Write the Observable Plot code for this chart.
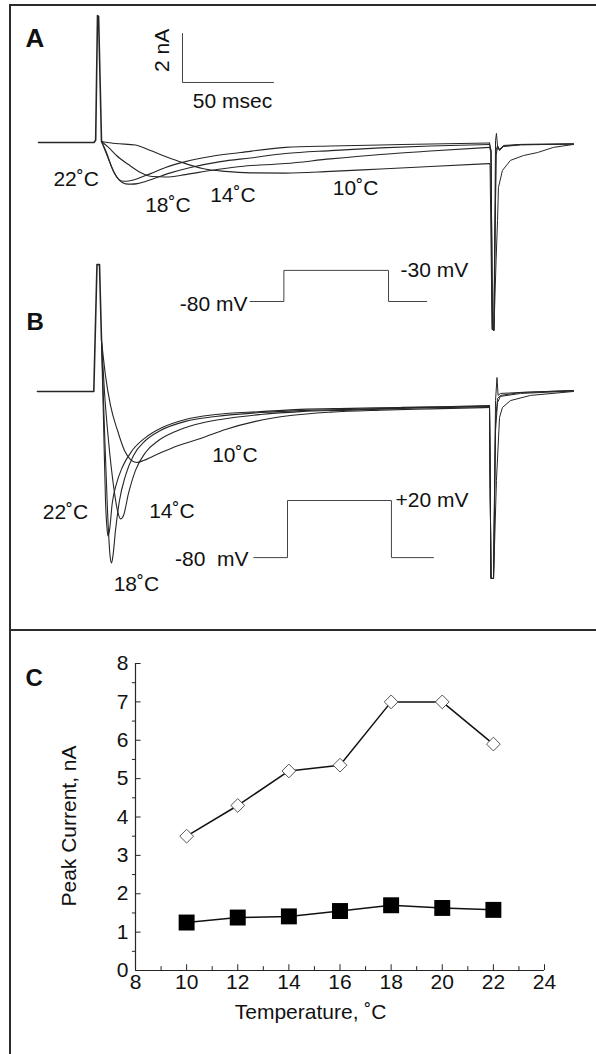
<!DOCTYPE html>
<html>
<head>
<meta charset="utf-8">
<script src="https://cdn.jsdelivr.net/npm/d3@7"></script>
<script src="https://cdn.jsdelivr.net/npm/@observablehq/plot@0.6"></script>
<style>
  html, body { margin: 0; padding: 0; background: #fff; }
  #fig { position: relative; width: 596px; height: 1054px; overflow: hidden; background: #fff;
         font-family: "Liberation Sans", Arial, sans-serif; }
  #fig svg { position: absolute; left: 0; overflow: visible; }
  .rule { position: absolute; background: #2b2b2b; }
</style>
</head>
<body>
<div id="fig">
  <div class="rule" style="left:9px; top:4px; width:2px; height:1050px;"></div>
  <div class="rule" style="left:9px; top:4px; width:587px; height:2px;"></div>
  <div class="rule" style="left:9px; top:629px; width:587px; height:2px;"></div>
</div>
<script>
// ---------- Panel A: currents during a step to -30 mV (time in ms, current in nA) ----------
const aOnsetT = [-31.3, -0.8, 0.1, 1.1, 1.7, 3.3];
const aOnsetI = [0, 0, 0.1, 5.18, 5.15, 0.04];

const a22T = [3.30, 6.04, 8.79, 11.54, 14.29, 17.03, 20.33, 24.73, 30.22, 38.46, 49.45, 63.19, 79.67, 104.4, 129.1, 156.6, 184.1, 216.5];
const a22I = [0.04, -0.41, -0.98, -1.39, -1.57, -1.58, -1.54, -1.43, -1.27, -1.02, -0.78, -0.57, -0.41, -0.20, -0.14, -0.10, -0.06, -0.02];
const a22TailT = [216.5, 217.3, 218.1, 218.9, 219.8, 220.3, 220.9, 222.0, 223.6, 233.5, 262.6];
const a22TailI = [-0.02, -0.33, -7.63, -7.67, 0.08, 0.37, -0.16, -0.29, -0.16, -0.08, -0.06];

const a18T = [3.30, 6.59, 9.89, 13.19, 16.48, 19.78, 23.08, 27.47, 32.97, 41.21, 52.20, 68.68, 85.16, 104.4, 129.1, 156.6, 184.1, 216.5];
const a18I = [0.04, -0.57, -1.18, -1.55, -1.69, -1.70, -1.68, -1.59, -1.45, -1.24, -1.02, -0.78, -0.63, -0.45, -0.33, -0.22, -0.14, -0.08];
const a18TailT = [216.5, 217.3, 218.1, 218.9, 220.1, 220.9, 222.0, 224.2, 233.5, 262.6];
const a18TailI = [-0.08, -0.33, -7.63, -7.67, -0.33, -0.12, -0.29, -0.12, -0.08, -0.06];

const a14T = [3.30, 7.14, 11.54, 18.13, 24.73, 31.32, 38.46, 49.45, 63.19, 79.67, 104.4, 129.1, 156.6, 184.1, 216.5];
const a14I = [0.04, -0.20, -0.53, -0.90, -1.22, -1.39, -1.41, -1.31, -1.14, -0.98, -0.86, -0.67, -0.49, -0.35, -0.20];
const a14TailT = [216.5, 217.3, 218.1, 218.9, 220.1, 220.9, 222.0, 224.2, 233.5, 262.6];
const a14TailI = [-0.20, -0.41, -7.63, -7.67, -0.53, -0.20, -0.33, -0.16, -0.10, -0.06];

const a10T = [3.30, 10.99, 21.98, 30.22, 38.46, 47.80, 58.79, 71.43, 85.16, 104.4, 129.1, 156.6, 184.1, 216.5];
const a10I = [0.04, -0.04, -0.10, -0.33, -0.57, -0.82, -1.06, -1.18, -1.24, -1.25, -1.18, -1.08, -0.98, -0.86];
const a10TailT = [216.5, 216.8, 217.9, 218.9, 220.1, 220.9, 221.4, 223.6, 228.0, 235.2, 242.9, 251.6, 262.6];
const a10TailI = [-0.86, -0.94, -7.63, -7.67, -4.82, -3.18, -1.84, -1.14, -0.73, -0.53, -0.41, -0.20, -0.08];

// ---------- Panel B: currents during a step to +20 mV ----------
const bOnsetT = [-31.9, -0.93, 0.82, 2.2, 3.3];
const bOnsetI = [0, 0, 5.18, 5.18, 2.08];

const b22T = [3.30, 4.40, 5.49, 6.43, 6.87, 7.69, 9.18, 11.54, 14.67, 20.16, 27.47, 36.65, 49.45, 65.93, 90.66, 112.6, 140.1, 167.6, 195.1, 216.5];
const b22I = [2.08, -1.18, -4.45, -5.67, -5.90, -5.67, -4.57, -3.76, -3.10, -2.41, -1.88, -1.47, -1.14, -0.94, -0.82, -0.73, -0.69, -0.65, -0.61, -0.57];
const b22TailT = [216.5, 217.3, 218.7, 219.8, 220.6, 221.2, 222.5, 233.5, 262.6];
const b22TailI = [-0.57, -7.63, -7.63, -0.37, 0.57, -0.16, -0.08, -0.04, 0.04];

const b18T = [3.30, 4.95, 6.59, 7.97, 8.79, 9.62, 10.99, 13.19, 16.48, 20.88, 27.47, 35.71, 49.45, 65.93, 90.66, 112.6, 140.1, 167.6, 195.1, 216.5];
const b18I = [2.08, -1.59, -4.86, -6.69, -7.00, -6.69, -5.67, -4.45, -3.43, -2.61, -2.00, -1.59, -1.22, -1.02, -0.86, -0.78, -0.73, -0.67, -0.63, -0.59];
const b18TailT = [216.5, 217.3, 218.7, 219.8, 220.9, 222.5, 233.5, 262.6];
const b18TailI = [-0.59, -7.63, -7.63, -1.18, -0.29, -0.16, -0.04, 0.04];

const b14T = [3.30, 4.95, 7.14, 9.89, 12.09, 13.74, 15.38, 18.13, 21.98, 27.47, 34.62, 43.96, 54.95, 68.68, 90.66, 112.6, 140.1, 167.6, 195.1, 216.5];
const b14I = [2.08, -0.04, -2.00, -3.84, -4.86, -5.20, -5.06, -4.16, -3.22, -2.49, -2.00, -1.63, -1.35, -1.14, -0.94, -0.82, -0.76, -0.69, -0.65, -0.61];
const b14TailT = [216.5, 217.3, 218.7, 219.8, 220.9, 222.5, 233.5, 262.6];
const b14TailI = [-0.61, -7.63, -7.63, -1.60, -0.45, -0.20, -0.08, 0.02];

const b10T = [3.30, 5.49, 8.24, 12.09, 15.93, 19.23, 22.53, 26.37, 31.32, 37.36, 45.60, 57.69, 71.43, 87.91, 107.1, 129.1, 156.6, 184.1, 216.5];
const b10I = [2.08, 0.65, -0.57, -1.59, -2.41, -2.78, -2.90, -2.82, -2.65, -2.45, -2.20, -1.92, -1.55, -1.22, -0.98, -0.84, -0.76, -0.71, -0.65];
const b10TailT = [216.5, 217.3, 218.7, 220.3, 222.0, 223.6, 228.0, 239.0, 262.6];
const b10TailI = [-0.65, -7.63, -7.63, -3.63, -1.06, -0.65, -0.37, -0.16, 0];

// ---------- Voltage protocols (ms, mV) ----------
const protoAT = [85, 103.5, 103.5, 161, 161, 182];
const protoAV = [-80, -80, -30, -30, -80, -80];
const protoBT = [87, 105.5, 105.5, 162.6, 162.6, 185.7];
const protoBV = [-80, -80, 20, 20, -80, -80];

// Scale bar values
const scaleBarNA = 2;
const scaleBarMS = 50;

// ---------- Panel C: peak current vs temperature ----------
const temperature = [10, 12, 14, 16, 18, 20, 22];
const peakAt20mV = [3.5, 4.3, 5.2, 5.35, 7.0, 7.0, 5.9];
const peakAt30mV = [1.25, 1.38, 1.41, 1.55, 1.70, 1.63, 1.58];
const tempTicks = [8, 10, 12, 14, 16, 18, 20, 22, 24];
const currentTicks = [0, 1, 2, 3, 4, 5, 6, 7, 8];

// ---------- layout ----------
const W = 596;
const INK = "#262626";
const FONT = "'Liberation Sans', Arial, Helvetica, sans-serif";
const LABEL_SIZE = 21;
const PX_PER_MS = 1.82, PX_PER_NA = 24.5;
const ONSET_PX = 95, BASE_PX = 142, TRACE_H = 345;
const T_DOMAIN = [-30, 265], I_DOMAIN = [-8, 5.5];
const B_OFFSET = 249;   // vertical shift of panel B relative to panel A

const rows = (T, I) => T.map((t, k) => ({t, i: I[k]}));
const fig = document.getElementById("fig");

function tracePanel({onset, bodies, tails, protocol, protoScale, labels, extra = []}) {
  const marks = [
    Plot.line(rows(...onset), {x: "t", y: "i", stroke: INK, strokeWidth: 1.6}),
    ...bodies.map(b => Plot.line(rows(...b), {x: "t", y: "i", curve: "monotone-x", stroke: INK, strokeWidth: 1.1})),
    ...tails.map(b => Plot.line(rows(...b), {x: "t", y: "i", stroke: INK, strokeWidth: 1})),
    Plot.line(protocol[0].map((t, k) => ({t, v: protocol[1][k]})),
      {x: "t", y: d => protoScale(d.v), stroke: "#444", strokeWidth: 1}),
    ...extra,
    ...labels.map(l => Plot.text([l.text], {
      x: () => l.t, y: () => l.i, text: d => d,
      fontSize: l.size || LABEL_SIZE, fontWeight: l.bold ? "bold" : "normal",
      textAnchor: l.anchor || "middle", lineAnchor: l.line || "middle",
      rotate: l.rotate || 0, fill: "#111"
    }))
  ];
  return Plot.plot({
    width: W, height: TRACE_H,
    marginLeft: ONSET_PX + T_DOMAIN[0] * PX_PER_MS,
    marginRight: W - (ONSET_PX + T_DOMAIN[1] * PX_PER_MS),
    marginTop: BASE_PX - I_DOMAIN[1] * PX_PER_NA,
    marginBottom: TRACE_H - (BASE_PX - I_DOMAIN[0] * PX_PER_NA),
    x: {domain: T_DOMAIN, axis: null},
    y: {domain: I_DOMAIN, axis: null},
    style: {background: "transparent", fontFamily: FONT, color: "#111"},
    marks
  });
}

// Scale bar anchored above the traces in panel A
const barT0 = 47.8, barI0 = 2.45;
const scaleBar = Plot.line(
  [{t: barT0, i: barI0 + scaleBarNA}, {t: barT0, i: barI0}, {t: barT0 + scaleBarMS, i: barI0}],
  {x: "t", y: "i", stroke: "#444", strokeWidth: 1});

const panelA = tracePanel({
  onset: [aOnsetT, aOnsetI],
  bodies: [[a22T, a22I], [a18T, a18I], [a14T, a14I], [a10T, a10I]],
  tails: [[a22TailT, a22TailI], [a18TailT, a18TailI], [a14TailT, a14TailI], [a10TailT, a10TailI]],
  protocol: [protoAT, protoAV],
  protoScale: d3.scaleLinear().domain([-80, -30]).range([-6.49, -5.22]),
  extra: [scaleBar],
  labels: [
    {text: "A", t: -38.5, i: 4.65, anchor: "start", line: "top", bold: true, size: 26},
    {text: "2 nA", t: 36.5, i: 3.76, rotate: -90},
    {text: `${scaleBarMS} msec`, t: 75.3, i: 1.69},
    {text: "22˚C", t: -10.6, i: -1.51},
    {text: "18˚C", t: 39.8, i: -2.57},
    {text: "14˚C", t: 75.5, i: -2.16},
    {text: "10˚C", t: 142.9, i: -1.86},
    {text: "-80 mV", t: 83.5, i: -6.59, anchor: "end"},
    {text: "-30 mV", t: 167.6, i: -5.22, anchor: "start"}
  ]
});
panelA.style.top = "0px";
fig.appendChild(panelA);

const panelB = tracePanel({
  onset: [bOnsetT, bOnsetI],
  bodies: [[b22T, b22I], [b18T, b18I], [b14T, b14I], [b10T, b10I]],
  tails: [[b22TailT, b22TailI], [b18TailT, b18TailI], [b14TailT, b14TailI], [b10TailT, b10TailI]],
  protocol: [protoBT, protoBV],
  protoScale: d3.scaleLinear().domain([-80, 20]).range([-6.78, -4.45]),
  labels: [
    {text: "B", t: -37.9, i: 3.22, anchor: "start", line: "top", bold: true, size: 24},
    {text: "10˚C", t: 76.6, i: -2.61},
    {text: "14˚C", t: 42.0, i: -4.90},
    {text: "22˚C", t: -16.5, i: -4.92},
    {text: "18˚C", t: 22.5, i: -7.86},
    {text: "-80\u00a0 mV", t: 84.1, i: -6.84, anchor: "end"},
    {text: "+20 mV", t: 164.8, i: -4.45, anchor: "start"}
  ]
});
panelB.style.top = B_OFFSET + "px";
fig.appendChild(panelB);

// ---------- Panel C ----------
const peaks = temperature.map((t, k) => ({temp: t, p20: peakAt20mV[k], p30: peakAt30mV[k]}));
const minorTemp = d3.range(9, 24, 2);
const minorCurrent = d3.range(0.5, 8, 1);

const panelC = Plot.plot({
  width: W, height: 424,
  marginTop: 33, marginBottom: 84, marginLeft: 135, marginRight: 52,
  x: {domain: [8, 24]},
  y: {domain: [0, 8]},
  style: {background: "transparent", fontFamily: FONT, color: "#111"},
  marks: [
    Plot.ruleX([8], {y1: 0, y2: 8, stroke: INK, strokeWidth: 1.2}),
    Plot.ruleY([0], {x1: 8, x2: 24, stroke: INK, strokeWidth: 1.2}),
    Plot.ruleX(tempTicks, {y1: 0, y2: 0.15, stroke: INK, strokeWidth: 1}),
    Plot.ruleX(minorTemp, {y1: 0, y2: 0.1, stroke: INK, strokeWidth: 1}),
    Plot.ruleY(currentTicks, {x1: 8, x2: 8.22, stroke: INK, strokeWidth: 1}),
    Plot.ruleY(minorCurrent, {x1: 7.88, x2: 8, stroke: INK, strokeWidth: 1}),
    Plot.axisX({ticks: tempTicks, tickSize: 0, tickPadding: 4, fontSize: LABEL_SIZE, label: null, tickFormat: d => d}),
    Plot.axisY({ticks: currentTicks, tickSize: 0, tickPadding: 7, fontSize: LABEL_SIZE, label: null, tickFormat: d => d}),
    Plot.line(peaks, {x: "temp", y: "p20", stroke: "#111", strokeWidth: 1.5}),
    Plot.dot(peaks, {x: "temp", y: "p20", symbol: "diamond2", r: 6.2, fill: "white", stroke: "#555", strokeWidth: 1}),
    Plot.line(peaks, {x: "temp", y: "p30", stroke: "#111", strokeWidth: 1.5}),
    Plot.dot(peaks, {x: "temp", y: "p30", symbol: "square", r: 9, fill: "#000", stroke: "none"}),
    Plot.text(["Peak Current, nA"], {frameAnchor: "left", dx: -66, dy: 9, rotate: -90, textAnchor: "middle",
      fontSize: LABEL_SIZE, fill: "#111"}),
    Plot.text(["Temperature, ˚C"], {x: [14.85], frameAnchor: "bottom", dy: 48, fontSize: LABEL_SIZE, fill: "#111"}),
    Plot.text(["C"], {frameAnchor: "top-left", dx: -110, dy: 5, textAnchor: "start", lineAnchor: "top",
      fontSize: 24, fontWeight: "bold", fill: "#111"})
  ]
});
panelC.style.top = "630px";
fig.appendChild(panelC);
</script>
</body>
</html>
